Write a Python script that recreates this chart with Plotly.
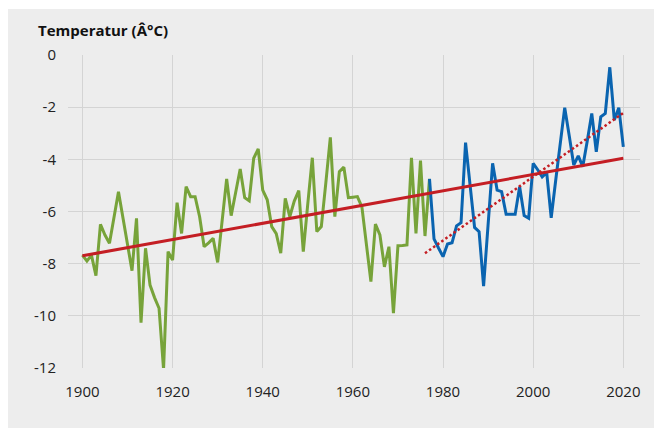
import plotly.graph_objects as go

# Green series (1900-1977)
green_years = list(range(1900, 1978))
green_values = [
    -7.67, -7.90, -7.67, -8.46, -6.49, -6.90, -7.22, -6.20, -5.24, -6.25,  # 1900-1909
    -7.26, -8.27, -6.26, -10.26, -7.41, -8.82, -9.30, -9.71, -12.05, -7.54,  # 1910-1919
    -7.86, -5.66, -6.84, -5.05, -5.43, -5.43, -6.20, -7.35, -7.20, -7.03,  # 1920-1929
    -7.95, -6.35, -4.75, -6.16, -5.20, -4.37, -5.47, -5.59, -3.96, -3.60,  # 1930-1939
    -5.18, -5.55, -6.58, -6.85, -7.60, -5.50, -6.20, -5.60, -5.20, -7.54,  # 1940-1949
    -5.70, -3.94, -6.77, -6.58, -4.90, -3.16, -6.20, -4.47, -4.30, -5.47,  # 1950-1959
    -5.45, -5.43, -5.82, -7.25, -8.69, -6.48, -6.90, -8.12, -7.35, -9.90,  # 1960-1969
    -7.31, -7.30, -7.28, -3.94, -6.84, -4.05, -6.94, -4.75,  # 1970-1977
]

# Blue series (1977-2020)
blue_years = list(range(1977, 2021))
blue_values = [
    -4.75, -7.05, -7.40,  # 1977-1979
    -7.73, -7.25, -7.20, -6.55, -6.43, -3.36, -5.00, -6.61, -6.77, -8.86,  # 1980-1989
    -6.50, -4.15, -5.18, -5.24, -6.11, -6.11, -6.11, -5.05, -6.16, -6.26,  # 1990-1999
    -4.15, -4.40, -4.67, -4.51, -6.24, -4.80, -3.40, -2.02, -3.10, -4.22,  # 2000-2009
    -3.87, -4.28, -3.30, -2.24, -3.71, -2.37, -2.24, -0.47, -2.49, -2.02,  # 2010-2019
    -3.52,  # 2020
]

# Trend lines (endpoints)
trend_all_years = [1900, 2020]
trend_all_values = [-7.70, -3.96]
trend_recent_years = [1976, 2020]
trend_recent_values = [-7.60, -2.22]

x_ticks = [1900, 1920, 1940, 1960, 1980, 2000, 2020]
y_ticks = [0, -2, -4, -6, -8, -10, -12]

GREEN = "#77a33a"
BLUE = "#0a64b0"
RED = "#c41e24"

fig = go.Figure()
fig.add_trace(go.Scatter(x=green_years, y=green_values, mode="lines",
                         line=dict(color=GREEN, width=3), showlegend=False))
fig.add_trace(go.Scatter(x=blue_years, y=blue_values, mode="lines",
                         line=dict(color=BLUE, width=3), showlegend=False))
fig.add_trace(go.Scatter(x=trend_all_years, y=trend_all_values, mode="lines",
                         line=dict(color=RED, width=3), showlegend=False))
fig.add_trace(go.Scatter(x=trend_recent_years, y=trend_recent_values, mode="lines",
                         line=dict(color=RED, width=2.5, dash="2.5px,2.5px"), showlegend=False))

# Page has an 8px body margin; figure coordinates are page coordinates minus 8.
W, H = 654, 420
L, T = 60, 47
R = W - 632
B = H - 360
pw = W - L - R
ph = H - T - B

fig.add_shape(type="rect", xref="paper", yref="paper",
              x0=(0 - L) / pw, x1=(W - L) / pw,
              y0=-(B) / ph, y1=((H - B) - 1) / ph,
              fillcolor="#ededed", line=dict(width=0), layer="below")

fig.add_annotation(text="<b>Temperatur (Â°C)</b>", xref="paper", yref="paper",
                   x=(28 - L) / pw, y=((H - B) - 22) / ph,
                   xanchor="left", yanchor="middle", showarrow=False,
                   font=dict(family="Open Sans", size=15, color="#111"))

fig.update_layout(
    width=W, height=H,
    margin=dict(l=L, r=R, t=T, b=B, autoexpand=False),
    paper_bgcolor="white",
    plot_bgcolor="rgba(0,0,0,0)",
    font=dict(family="Open Sans", size=15, color="#222"),
    xaxis=dict(range=[1896.8, 2023.7], tickvals=x_ticks, ticktext=[str(v) for v in x_ticks],
               showgrid=True, gridcolor="#d4d4d4", gridwidth=1, zeroline=False,
               ticks="outside", ticklen=10, tickcolor="rgba(0,0,0,0)", showline=False,
               automargin=False),
    yaxis=dict(range=[-12, 0], tickvals=y_ticks, ticktext=[str(v) for v in y_ticks],
               showgrid=True, gridcolor="#d4d4d4", gridwidth=1, zeroline=False,
               ticks="outside", ticklen=8, tickcolor="rgba(0,0,0,0)", showline=False,
               automargin=False),
)

fig.write_html("out.html")
